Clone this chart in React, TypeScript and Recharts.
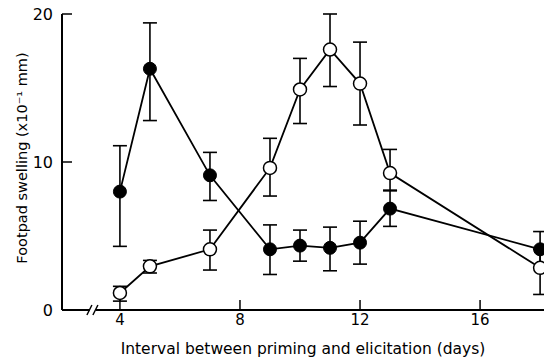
import { LineChart, Line, XAxis, YAxis, ErrorBar, ReferenceDot } from "recharts";

// days after priming
const days = [4, 5, 7, 9, 10, 11, 12, 13, 18];

// filled circles
const filledMean = [8.0, 16.3, 9.1, 4.1, 4.35, 4.2, 4.55, 6.85, 4.1];
const filledHigh = [11.1, 19.4, 10.65, 5.75, 5.4, 5.6, 6.0, 8.05, 5.3];
const filledLow = [4.3, 12.8, 7.4, 2.4, 3.3, 2.65, 3.1, 5.65, 2.9];

// open circles
const openMean = [1.15, 2.95, 4.1, 9.6, 14.9, 17.6, 15.3, 9.25, 2.85];
const openHigh = [1.6, 3.35, 5.4, 11.6, 17.0, 20.0, 18.1, 10.85, 4.1];
const openLow = [0.6, 2.5, 2.7, 7.7, 12.6, 15.1, 12.5, 8.1, 1.05];

const xTicks = [4, 8, 12, 16];
const yTicks = [0, 10, 20];

const data = days.map((d, i) => ({
  day: d,
  filled: filledMean[i],
  filledErr: [filledMean[i] - filledLow[i], filledHigh[i] - filledMean[i]],
  open: openMean[i],
  openErr: [openMean[i] - openLow[i], openHigh[i] - openMean[i]],
}));

const font = "'DejaVu Sans', sans-serif";

const YLabel = (props: any) => {
  const vb = props.viewBox || { x: 0, y: 14, height: 296 };
  const cx = vb.x + 27;
  const cy = vb.y + vb.height / 2 - 4;
  return (
    <text
      x={cx}
      y={cy}
      transform={`rotate(-90 ${cx} ${cy})`}
      textAnchor="middle"
      fontFamily={font}
      fontSize={14.5}
      fill="#000"
    >
      Footpad swelling (x10⁻¹ mm)
    </text>
  );
};

const AxisBreak = (props: any) => {
  const { cx, cy } = props;
  return (
    <g>
      <rect x={cx - 3} y={cy - 3} width={6} height={6} fill="#fff" />
      <line x1={cx - 6} y1={cy + 5} x2={cx - 1} y2={cy - 5} stroke="#000" strokeWidth={1.5} />
      <line x1={cx} y1={cy + 5} x2={cx + 5} y2={cy - 5} stroke="#000" strokeWidth={1.5} />
    </g>
  );
};

export default function App() {
  return (
    <div style={{ position: "absolute", left: 0, top: 0, width: 544, height: 360, background: "#fff" }}>
      <LineChart
        width={544}
        height={360}
        data={data}
        margin={{ top: 14, right: 0, left: 0, bottom: 0 }}
      >
        <XAxis
          dataKey="day"
          type="number"
          domain={[2.07, 18.13]}
          allowDataOverflow
          ticks={xTicks}
          height={50}
          tickSize={-10}
          tickMargin={14}
          axisLine={{ stroke: "#000", strokeWidth: 2 }}
          tickLine={{ stroke: "#000", strokeWidth: 1.5 }}
          tick={{ fill: "#000", fontSize: 15, fontFamily: font }}
          label={{
            value: "Interval between priming and elicitation (days)",
            position: "insideBottom",
            offset: 6,
            fill: "#000",
            fontSize: 15.5,
            fontFamily: font,
          }}
        />
        <YAxis
          type="number"
          domain={[0, 20]}
          ticks={yTicks}
          width={62}
          tickSize={-10}
          tickMargin={19}
          axisLine={{ stroke: "#000", strokeWidth: 2 }}
          tickLine={{ stroke: "#000", strokeWidth: 1.5 }}
          tick={{ fill: "#000", fontSize: 16, fontFamily: font }}
          label={{ content: YLabel }}
        />
        <Line
          dataKey="filled"
          stroke="#000"
          strokeWidth={1.8}
          isAnimationActive={false}
          dot={{ r: 6.5, fill: "#000", stroke: "#000", strokeWidth: 1 }}
          activeDot={false}
        >
          <ErrorBar dataKey="filledErr" direction="y" width={7} stroke="#000" strokeWidth={1.6} />
        </Line>
        <Line
          dataKey="open"
          stroke="#000"
          strokeWidth={1.8}
          isAnimationActive={false}
          dot={{ r: 6.5, fill: "#fff", stroke: "#000", strokeWidth: 1.5 }}
          activeDot={false}
        >
          <ErrorBar dataKey="openErr" direction="y" width={7} stroke="#000" strokeWidth={1.6} />
        </Line>
        <ReferenceDot x={3.1} y={0} shape={AxisBreak} ifOverflow="visible" />
      </LineChart>
    </div>
  );
}
